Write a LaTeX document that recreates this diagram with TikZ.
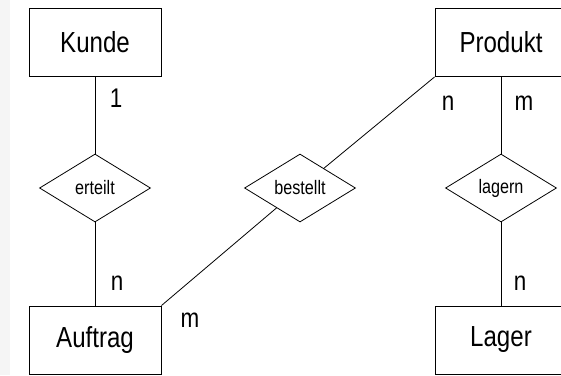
\documentclass[tikz,border=0pt]{standalone}
\usepackage{fontspec}
\setmainfont{Liberation Sans}[FakeStretch=0.83]
\usetikzlibrary{shapes.geometric}

\begin{document}
\begin{tikzpicture}
  [x=1pt,y=-1pt,
   entity/.style={draw,rectangle,line width=1pt,minimum width=132pt,minimum height=68pt,inner sep=0pt,font=\fontsize{29}{30}\selectfont},
   relation/.style={draw,diamond,line width=0.8pt,minimum width=111pt,minimum height=68pt,inner sep=0pt,font=\fontsize{19.5}{20}\selectfont},
   card/.style={inner sep=0pt,font=\fontsize{27}{28}\selectfont}]
  \useasboundingbox (0,0) rectangle (561,375);
  \fill[gray!8] (0,0) rectangle (10,375);

  \node[entity] (kunde) at (95,42.5) {Kunde};
  \node[entity] (produkt) at (501,42.5) {Produkt};
  \node[entity] (auftrag) at (95,340) {Auftrag};
  \node[entity] (lager) at (501,340) {Lager};

  \node[relation] (erteilt) at (95,188) {erteilt};
  \node[relation] (bestellt) at (300,188) {bestellt};
  \node[relation] (lagern) at (501,188) {lagern};

  \node[card] (c1) at (116,98) {1};
  \node[card] (c2) at (448,103) {n};
  \node[card] (c3) at (524,103) {m};
  \node[card] (c4) at (117,283) {n};
  \node[card] (c5) at (190,320) {m};
  \node[card] (c6) at (520,283) {n};

  \foreach \from/\to in {kunde/erteilt, erteilt/auftrag, produkt/lagern, lagern/lager}
    \draw[line width=1pt] (\from) -- (\to);
  \draw[line width=0.8pt] (produkt.south west) -- (bestellt) -- (auftrag.north east);

\end{tikzpicture}
\end{document}
